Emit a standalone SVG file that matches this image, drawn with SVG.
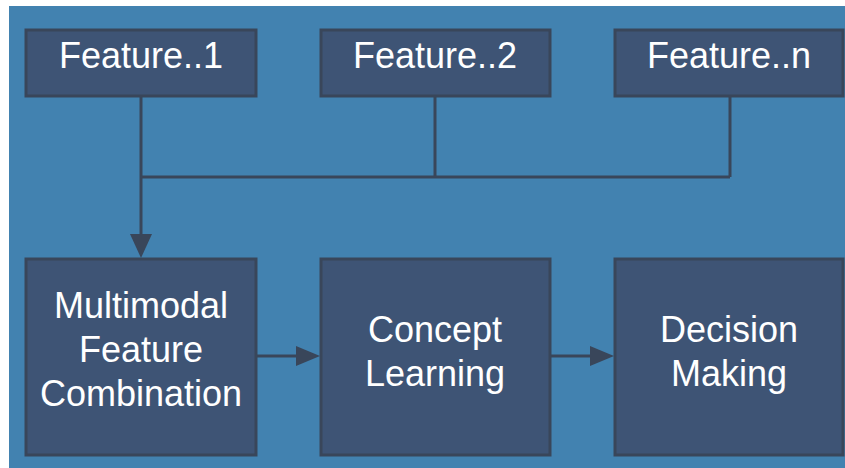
<svg xmlns="http://www.w3.org/2000/svg" width="845" height="468" viewBox="0 0 845 468">
<defs>
<style>
.box{fill:#3e5475;stroke:#39465a;stroke-width:3}
.t{fill:#ffffff;font-family:"Liberation Sans",Arial,sans-serif;font-size:36px;text-anchor:middle}
.c{fill:none;stroke:#39465a;stroke-width:3}
</style>
</defs>
<rect x="0" y="0" width="845" height="468" fill="#ffffff"/>
<rect x="9" y="6" width="836" height="462" fill="#4282b0"/>
<g id="connectors">
<path class="c" d="M141,97 V236"/>
<path class="c" d="M141,177 H730 M435,97 V177 M730,96 V177"/>
<path d="M130,234 L152,234 L141,258 z" fill="#39465a"/>
<path class="c" d="M256,356 H298"/>
<path d="M296,346 L320,356 L296,366 z" fill="#39465a"/>
<path class="c" d="M550,356 H592"/>
<path d="M590,346 L614,356 L590,366 z" fill="#39465a"/>
</g>
<g id="feature1"><rect class="box" x="26" y="30" width="230" height="66"/><text class="t" x="141" y="68">Feature..1</text></g>
<g id="feature2"><rect class="box" x="321" y="30" width="229" height="66"/><text class="t" x="435" y="68">Feature..2</text></g>
<g id="featuren"><rect class="box" x="615" y="30" width="228" height="66"/><text class="t" x="729" y="68">Feature..n</text></g>
<g id="multimodal"><rect class="box" x="26" y="259" width="230" height="196"/><text class="t" x="141" y="318">Multimodal</text><text class="t" x="141" y="362">Feature</text><text class="t" x="141" y="406">Combination</text></g>
<g id="concept"><rect class="box" x="321" y="259" width="229" height="196"/><text class="t" x="435" y="342">Concept</text><text class="t" x="435" y="386">Learning</text></g>
<g id="decision"><rect class="box" x="615" y="259" width="228" height="196"/><text class="t" x="729" y="342">Decision</text><text class="t" x="729" y="386">Making</text></g>
</svg>
